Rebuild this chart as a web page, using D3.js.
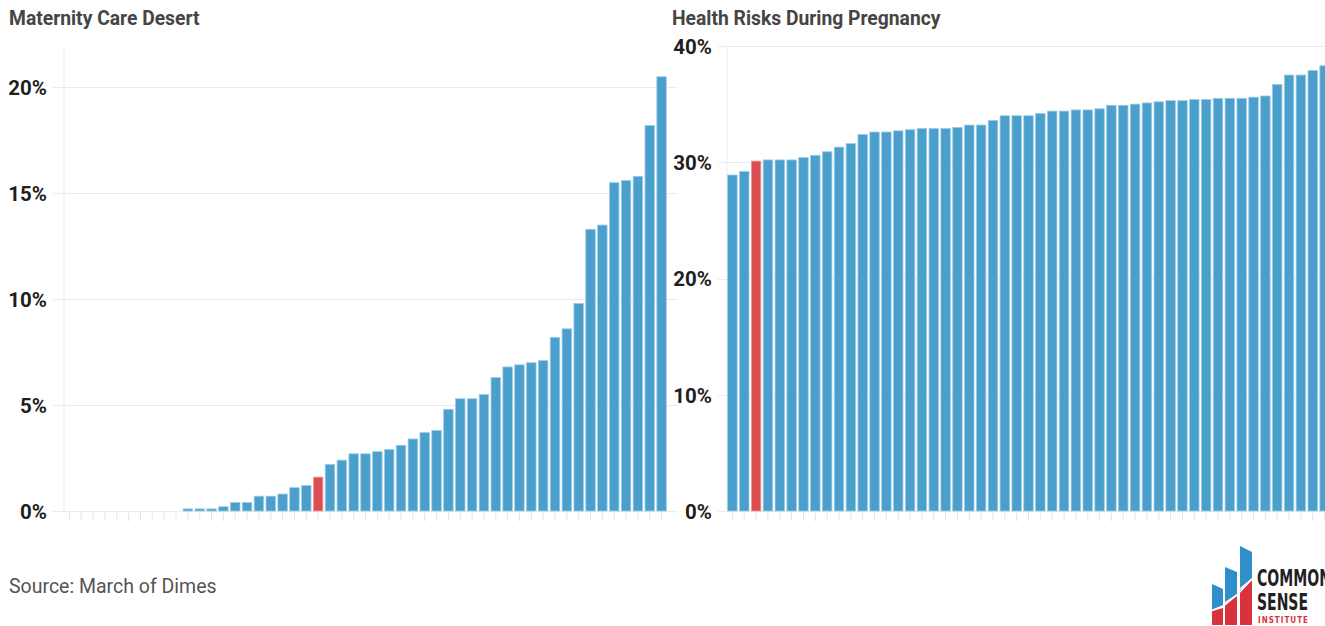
<!DOCTYPE html>
<html>
<head>
<meta charset="utf-8">
<script src="https://cdn.jsdelivr.net/npm/d3@7"></script>
<style>
  html, body { margin: 0; padding: 0; background: #fff; overflow: hidden; width: 1325px; height: 626px; }
  svg { display: block; }
</style>
</head>
<body>
<div id="chart"></div>
<script>
// ---- Data ----
const states = d3.range(1, 52).map(i => "State " + i);
const highlightLeft = 21;   // index of highlighted (red) bar, left panel
const highlightRight = 2;   // index of highlighted (red) bar, right panel

const careDesertTitle = "Maternity Care Desert";
const careDesertValues = [
  0, 0, 0, 0, 0, 0, 0, 0, 0, 0,
  0.1, 0.1, 0.1, 0.2, 0.4, 0.4, 0.7, 0.7, 0.8, 1.1,
  1.2, 1.6, 2.2, 2.4, 2.7, 2.7, 2.8, 2.9, 3.1, 3.4,
  3.7, 3.8, 4.8, 5.3, 5.3, 5.5, 6.3, 6.8, 6.9, 7.0,
  7.1, 8.2, 8.6, 9.8, 13.3, 13.5, 15.5, 15.6, 15.8, 18.2,
  20.5
];
const careDesertTicks = [0, 5, 10, 15, 20];

const healthRiskTitle = "Health Risks During Pregnancy";
const healthRiskValues = [
  28.9, 29.2, 30.1, 30.2, 30.2, 30.2, 30.4, 30.6, 30.9, 31.3,
  31.6, 32.4, 32.6, 32.6, 32.7, 32.8, 32.9, 32.9, 32.9, 33.0,
  33.2, 33.2, 33.6, 34.0, 34.0, 34.0, 34.2, 34.4, 34.4, 34.5,
  34.5, 34.6, 34.9, 34.9, 35.0, 35.1, 35.2, 35.3, 35.3, 35.4,
  35.4, 35.5, 35.5, 35.5, 35.6, 35.7, 36.7, 37.5, 37.5, 37.9,
  38.3
];
const healthRiskTicks = [0, 10, 20, 30, 40];

const sourceText = "Source: March of Dimes";

// ---- Styles ----
const BLUE = "#4b9fcc";
const BLUE_EDGE = "#9ccbe4";
const RED = "#dc4d51";
const RED_EDGE = "#eb9c9e";
const GRID = "#ebebeb";
const FONT = "Roboto, 'Noto Sans', sans-serif";

const svg = d3.select("#chart").append("svg")
  .attr("width", 1360).attr("height", 626);

function panel(opts) {
  const g = svg.append("g");
  const x = d3.scaleBand().domain(states).range(opts.xRange)
    .paddingInner(0.2).paddingOuter(0.1);
  const y = d3.scaleLinear().domain([0, opts.yMax]).range([511, opts.yTop]);

  // title
  g.append("text").attr("x", opts.titleX).attr("y", 25)
    .attr("font-family", FONT).attr("font-weight", 700).attr("font-size", 19.3)
    .attr("fill", "#454545").text(opts.title);

  // gridlines
  g.selectAll("line.grid").data(opts.ticks).join("line")
    .attr("class", "grid")
    .attr("x1", opts.gridX0).attr("x2", opts.xRange[1] + 10)
    .attr("y1", d => Math.round(y(d)) + 0.5).attr("y2", d => Math.round(y(d)) + 0.5)
    .attr("stroke", GRID).attr("stroke-width", 1);

  // vertical axis line
  g.append("line")
    .attr("x1", opts.xRange[0] + 0.5).attr("x2", opts.xRange[0] + 0.5)
    .attr("y1", opts.yTop).attr("y2", 511)
    .attr("stroke", GRID).attr("stroke-width", 1);

  // y tick labels via axis
  const yAxis = d3.axisLeft(y).tickValues(opts.ticks)
    .tickFormat(d => d + "%").tickSize(0).tickPadding(0);
  const ya = g.append("g").attr("transform", `translate(${opts.labelX},0)`).call(yAxis);
  ya.select(".domain").remove();
  ya.selectAll("text")
    .attr("font-family", FONT).attr("font-weight", 700).attr("font-size", 20.5)
    .attr("fill", "#1e1e1e").attr("dy", "0.36em");

  // x ticks (no labels)
  const xAxis = d3.axisBottom(x).tickSize(8).tickFormat("");
  const xa = g.append("g").attr("transform", "translate(0,513)").call(xAxis);
  xa.select(".domain").remove();
  xa.selectAll(".tick line").attr("stroke", "#e3e3e3");

  // bars
  g.selectAll("rect.bar").data(opts.values).join("rect")
    .attr("class", "bar")
    .attr("x", (d, i) => x(states[i]))
    .attr("width", x.bandwidth())
    .attr("y", d => y(d))
    .attr("height", d => 511 - y(d))
    .attr("fill", (d, i) => i === opts.highlight ? RED : BLUE)
    .attr("stroke", (d, i) => d > 0 ? (i === opts.highlight ? RED_EDGE : BLUE_EDGE) : "none")
    .attr("stroke-width", 0.8);
}

panel({
  title: careDesertTitle, titleX: 9, values: careDesertValues, ticks: careDesertTicks,
  highlight: highlightLeft, xRange: [63.5, 667.5], yMax: 22, yTop: 45,
  gridX0: 53, labelX: 47
});

panel({
  title: healthRiskTitle, titleX: 672, values: healthRiskValues, ticks: healthRiskTicks,
  highlight: highlightRight, xRange: [726.5, 1330.5], yMax: 40, yTop: 46,
  gridX0: 718, labelX: 712
});

// source
svg.append("text").attr("x", 9).attr("y", 593)
  .attr("font-family", FONT).attr("font-size", 19.5).attr("fill", "#555")
  .text(sourceText);

// logo
const logo = svg.append("g");
// red rising shape
logo.append("path")
  .attr("d", "M1212,611 L1223,608 L1223,625 L1212,625 Z M1225,604 L1237,596 L1237,625 L1225,625 Z M1240,590 L1252,580 L1252,625 L1240,625 Z")
  .attr("fill", "#d8333c");
// blue bars with slanted tops
logo.append("path")
  .attr("d", "M1212,584 L1223,589 L1223,606 L1212,610 Z M1225,567 L1237,572 L1237,594 L1225,602 Z M1240,546 L1252,552 L1252,578 L1240,588 Z")
  .attr("fill", "#2f8fcb");
// white diagonal line
logo.append("polyline")
  .attr("points", "1212,610.5 1224,605.5 1238,594 1252,579")
  .attr("fill", "none").attr("stroke", "#fff").attr("stroke-width", 1.5);
logo.append("text").attr("x", 1257).attr("y", 586)
  .attr("font-family", "'Liberation Sans Narrow', 'DejaVu Sans Condensed', sans-serif")
  .attr("font-weight", 700).attr("font-size", 23).attr("fill", "#1f1f24")
  .attr("textLength", 74).attr("lengthAdjust", "spacingAndGlyphs").text("COMMON");
logo.append("text").attr("x", 1257).attr("y", 610)
  .attr("font-family", "'Liberation Sans Narrow', 'DejaVu Sans Condensed', sans-serif")
  .attr("font-weight", 700).attr("font-size", 23).attr("fill", "#1f1f24")
  .attr("textLength", 51).attr("lengthAdjust", "spacingAndGlyphs").text("SENSE");
logo.append("text").attr("x", 1258).attr("y", 622.5)
  .attr("font-family", "'Liberation Sans Narrow', 'DejaVu Sans Condensed', sans-serif")
  .attr("font-weight", 700).attr("font-size", 8).attr("fill", "#d8333c")
  .attr("textLength", 50).attr("lengthAdjust", "spacing").text("INSTITUTE");
</script>
</body>
</html>
